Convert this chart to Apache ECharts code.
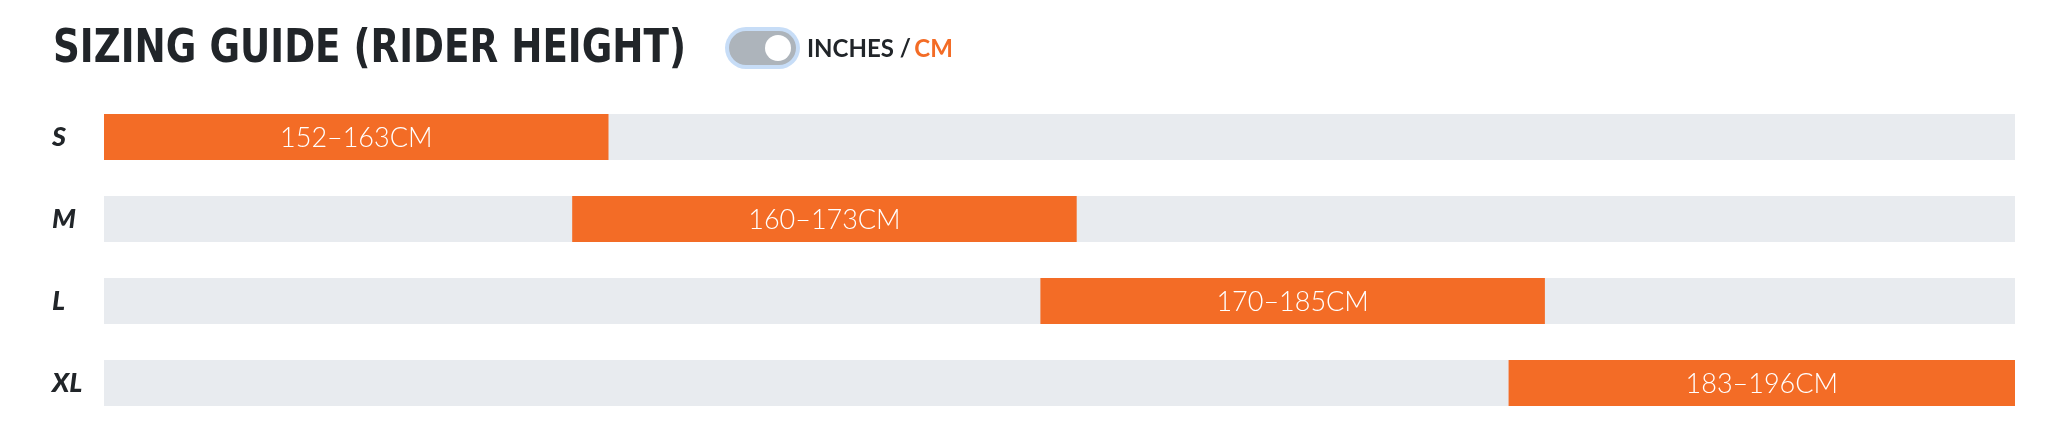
<!DOCTYPE html>
<html>
<head>
<meta charset="utf-8">
<script src="https://cdn.jsdelivr.net/npm/echarts@6/dist/echarts.min.js"></script>
<style>
html,body{margin:0;padding:0;background:#fff;}
#chart{width:2062px;height:442px;}
</style>
</head>
<body>
<div id="chart"></div>
<script>
// ---- data ----
const sizes = ['S', 'M', 'L', 'XL'];
const minCm = [152, 160, 170, 183];
const maxCm = [163, 173, 185, 196];
// position of each orange segment along the track (percent of track width)
const barStart = [0, 24.5, 49.0, 73.5];
const barEnd = [26.4, 50.9, 75.4, 100];
const trackMin = 0;
const trackMax = 100;
const titleText = 'SIZING GUIDE (RIDER HEIGHT)';
const unitLeft = 'INCHES /';
const unitRight = 'CM';

// ---- style ----
const ORANGE = '#f36c26';
const TRACK = '#e8ebef';
const DARK = '#212529';
const BAR_H = 46;

const TITLE_FONT = 'bold 46px "DejaVu Sans"';
const TITLE_W = 633;
const mctx = document.createElement('canvas').getContext('2d');
mctx.font = TITLE_FONT;
const titleScale = TITLE_W / mctx.measureText(titleText).width;

const chart = echarts.init(document.getElementById('chart'), null, {renderer: 'canvas'});

const seriesData = sizes.map((s, i) => [i, barStart[i], barEnd[i], minCm[i] + '\u2013' + maxCm[i] + 'CM']);

const option = {
  backgroundColor: '#ffffff',
  animation: false,
  grid: {left: 104, right: 47, top: 96, bottom: 18},
  xAxis: {type: 'value', min: trackMin, max: trackMax, show: false},
  yAxis: {
    type: 'category',
    data: sizes,
    inverse: true,
    axisLine: {show: false},
    axisTick: {show: false},
    splitLine: {show: false},
    axisLabel: {
      align: 'left',
      margin: 52,
      color: DARK,
      fontFamily: 'Lato',
      fontWeight: 900,
      fontStyle: 'italic',
      fontSize: 27
    }
  },
  series: [{
    type: 'custom',
    encode: {x: [1, 2], y: 0},
    data: seriesData,
    renderItem: function (params, api) {
      const yi = api.value(0);
      const l = api.coord([trackMin, yi]);
      const r = api.coord([trackMax, yi]);
      const s = api.coord([api.value(1), yi]);
      const e = api.coord([api.value(2), yi]);
      const label = seriesData[params.dataIndex][3];
      return {
        type: 'group',
        children: [
          {type: 'rect', shape: {x: l[0], y: l[1] - BAR_H / 2, width: r[0] - l[0], height: BAR_H}, style: {fill: TRACK}},
          {type: 'rect', shape: {x: s[0], y: s[1] - BAR_H / 2, width: e[0] - s[0], height: BAR_H}, style: {fill: ORANGE}},
          {type: 'text', x: (s[0] + e[0]) / 2, y: s[1] + 1, style: {
            text: label, fill: '#ffffff', align: 'center', verticalAlign: 'middle',
            fontFamily: 'Lato', fontWeight: 300, fontSize: 27
          }}
        ]
      };
    }
  }],
  graphic: [
    {type: 'text', x: 53, y: 50, scaleX: titleScale, style: {
      text: titleText, fill: DARK, fontFamily: 'DejaVu Sans', fontWeight: 'bold', fontSize: 46,
      align: 'left', verticalAlign: 'middle'
    }},
    {type: 'rect', shape: {x: 725, y: 27, width: 75, height: 42, r: 21}, style: {fill: '#c7ddf7'}},
    {type: 'rect', shape: {x: 729, y: 31, width: 67, height: 34, r: 17}, style: {fill: '#adb4bb'}},
    {type: 'circle', shape: {cx: 778, cy: 48, r: 13}, style: {fill: '#ffffff'}},
    {type: 'text', x: 807, y: 49, style: {
      text: '{a|' + unitLeft + '} {b|' + unitRight + '}',
      verticalAlign: 'middle',
      rich: {
        a: {fill: DARK, fontFamily: 'Lato', fontWeight: 'bold', fontSize: 24},
        b: {fill: ORANGE, fontFamily: 'Lato', fontWeight: 'bold', fontSize: 24}
      }
    }}
  ]
};
chart.setOption(option);
</script>
</body>
</html>
